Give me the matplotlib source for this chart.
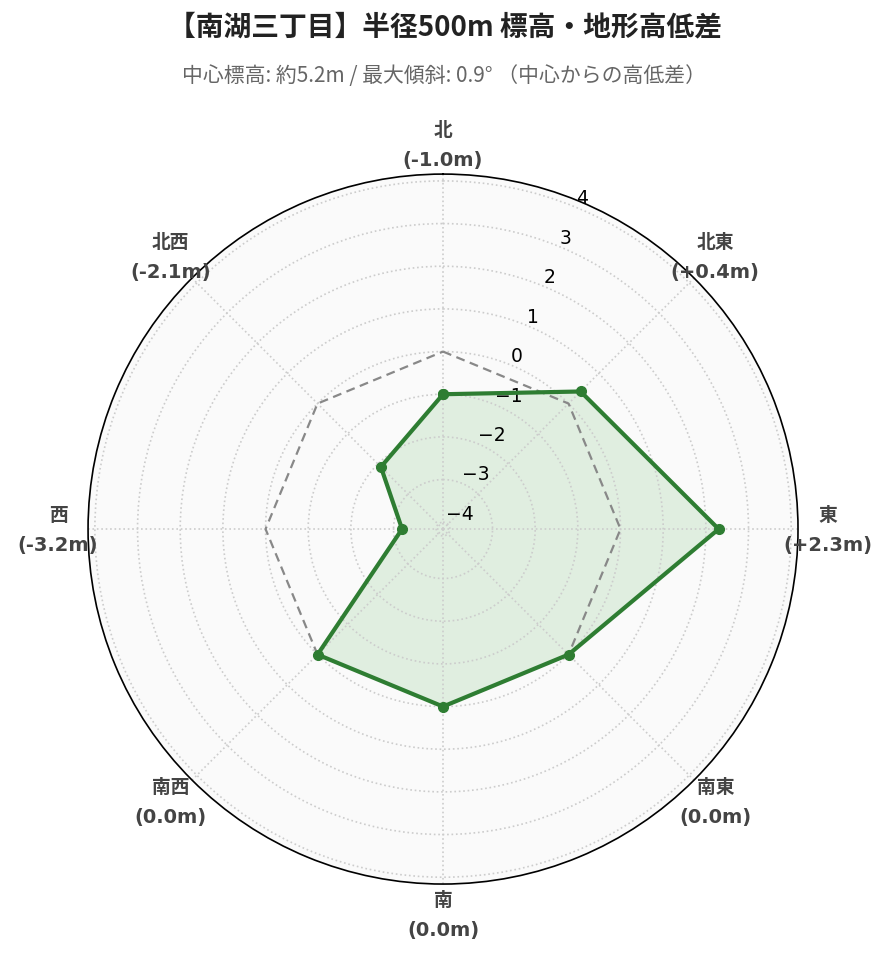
import numpy as np
import matplotlib.pyplot as plt

plt.rcParams['font.family'] = ['Noto Sans CJK JP', 'DejaVu Sans']

directions = ['北', '北東', '東', '南東', '南', '南西', '西', '北西']
diffs = [-1.0, 0.4, 2.3, 0.0, 0.0, 0.0, -3.2, -2.1]
baseline = [0.0] * 8
rticks = [-4, -3, -2, -1, 0, 1, 2, 3, 4]

lim = max(abs(v) for v in diffs) * 1.3

angles = np.deg2rad(np.arange(0, 360, 45))
ang_c = np.append(angles, angles[0])
val_c = np.append(diffs, diffs[0])
base_c = np.append(baseline, baseline[0])

fig = plt.figure(figsize=(8.89, 9.62), dpi=100)
ax = fig.add_axes([0.099, 0.080, 0.7987, 0.738], projection='polar')
ax.set_theta_zero_location('N')
ax.set_theta_direction(-1)
ax.set_ylim(-lim, lim)
ax.set_facecolor('#fafafa')

ax.plot(ang_c, base_c, color='#888888', linestyle='--', linewidth=1.6, dashes=(4, 2.5))
ax.fill(ang_c, val_c, color='#4caf50', alpha=0.15, linewidth=0)
ax.plot(ang_c, val_c, color='#2e7d32', linewidth=3.0, marker='o', markersize=7)

ax.set_xticks(angles)
ax.set_xticklabels([])
ax.set_yticks(rticks)
ax.set_yticklabels(['−%d' % -t if t < 0 else str(t) for t in rticks], fontsize=13.5,
                   family=['DejaVu Sans'])
ax.set_rlabel_position(22.5)
ax.grid(True, color='#cccccc', linestyle=':', linewidth=1.2)
ax.spines['polar'].set_color('black')
ax.spines['polar'].set_linewidth(1.2)

r = 385 / 710
for a, name, v in zip(angles, directions, diffs):
    x = 0.5 + r * np.sin(a)
    y = 0.5 + r * np.cos(a)
    label = '(%+.1fm)' % v if v != 0 else '(0.0m)'
    ax.text(x, y + 15 / 710, name, transform=ax.transAxes, ha='center', va='center',
            fontsize=13.5, fontweight='bold', color='#444444')
    ax.text(x, y - 15 / 710, label, transform=ax.transAxes, ha='center', va='center',
            fontsize=14, fontweight='bold', color='#444444', family=['DejaVu Sans'])

fig.text(0.5, 1 - 27 / 962, '【南湖三丁目】半径500m 標高・地形高低差', ha='center', va='center',
         fontsize=20, fontweight='bold', color='#222222')
fig.text(0.5, 1 - 76 / 962, '中心標高: 約5.2m / 最大傾斜: 0.9° （中心からの高低差）', ha='center',
         va='center', fontsize=15, color='#666666')

fig.savefig('out.png', dpi=100)
